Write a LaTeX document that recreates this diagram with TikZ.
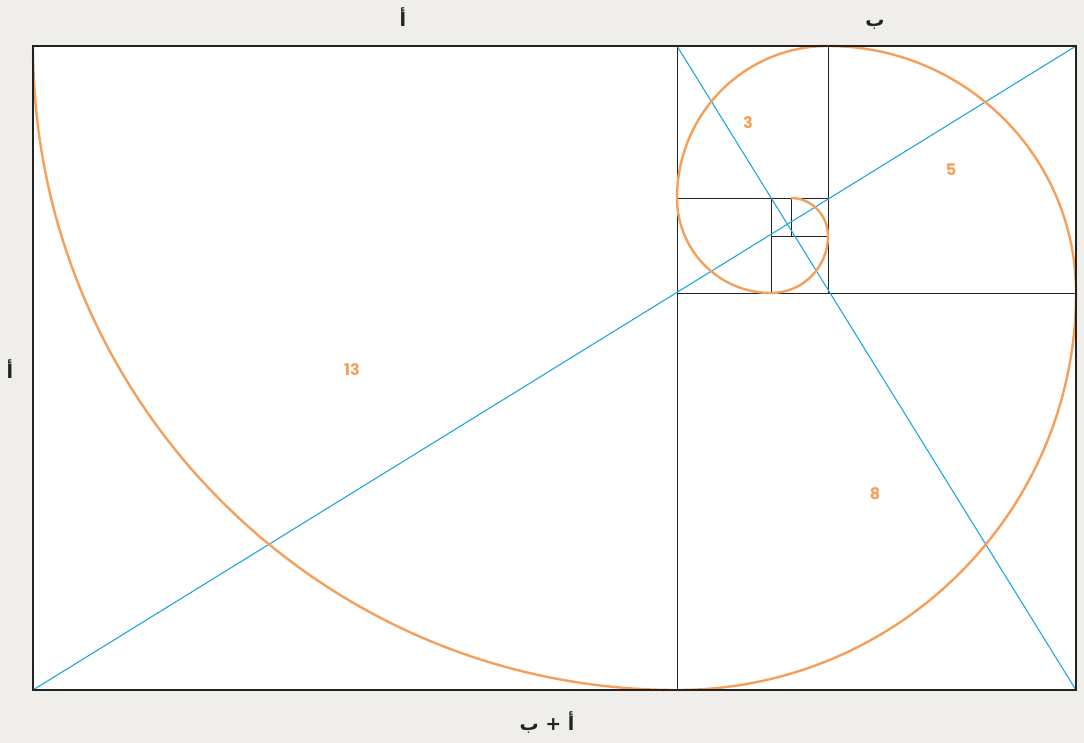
\documentclass[tikz,border=0pt]{standalone}
\usepackage{fontspec}
\setmainfont{DejaVu Sans}
\newfontfamily\arabicfont[Script=Arabic]{DejaVu Sans}
\newfontfamily\numfont{Poppins}[UprightFont=* Bold]
\TeXXeTstate=1
\definecolor{bg}{HTML}{EFEEEA}
\definecolor{spiral}{HTML}{F4A05A}
\definecolor{diag}{HTML}{1BA8E0}
\definecolor{ink}{HTML}{222222}
\tikzset{
  frame/.style={draw=ink, line width=1.8pt},
  grid/.style={draw=ink, line width=0.9pt},
  spir/.style={draw=spiral, line width=2.4pt},
  diagline/.style={draw=diag, line width=1.1pt},
  side/.style={font=\arabicfont\bfseries\fontsize{19}{22}\selectfont, text=ink, inner sep=0pt},
  num/.style={font=\numfont\fontsize{16}{20}\selectfont, text=spiral, inner sep=0pt}
}
\begin{document}
\begin{tikzpicture}[x=1pt,y=-1pt]
\fill[bg] (0,0) rectangle (1084,743);
\useasboundingbox (0,0) rectangle (1084,743);
\fill[white] (33,46) rectangle (1076,690);
% squares
\draw[grid] (677,46) -- (677,690);
\draw[grid] (677,293) -- (1076,293);
\draw[grid] (828,46) -- (828,293);
\draw[grid] (677,198) -- (828,198);
\draw[grid] (771,198) -- (771,293);
\draw[grid] (771,236) -- (828,236);
\draw[grid] (791,198) -- (791,236);
% diagonals
\coordinate (bl) at (33,690);
\coordinate (tr) at (1076,46);
\coordinate (tm) at (677,46);
\coordinate (br) at (1076,690);
\draw[diagline] (bl) -- (tr);
\draw[diagline] (tm) -- (br);
% spiral
\draw[spir] (33,46) arc[start angle=180, end angle=90, radius=644];
\draw[spir] (677,690) arc[start angle=90, end angle=0, x radius=399, y radius=397];
\draw[spir] (1076,293) arc[start angle=0, end angle=-90, x radius=248, y radius=247];
\draw[spir] (828,46) arc[start angle=-90, end angle=-180, x radius=151, y radius=152];
\draw[spir] (677,198) arc[start angle=180, end angle=90, x radius=94, y radius=95];
\draw[spir] (771,293) arc[start angle=90, end angle=0, x radius=57, y radius=57];
\draw[spir] (828,236) arc[start angle=0, end angle=-90, x radius=37, y radius=38];
\draw[frame] (33,46) rectangle (1076,690);
% labels
\node[side] (la) at (403,17) {\beginR أ\endR};
\node[side] (lb) at (875,25) {\beginR ب\endR};
\node[side] (ll) at (10,369) {\beginR أ\endR};
\node[side] (lab) at (547,722) {\beginR أ + ب\endR};
\node[num] (n13) at (352,370) {13};
\node[num] (n8) at (875,494) {8};
\node[num] (n5) at (951,170) {5};
\node[num] (n3) at (748,123) {3};
\end{tikzpicture}
\end{document}
